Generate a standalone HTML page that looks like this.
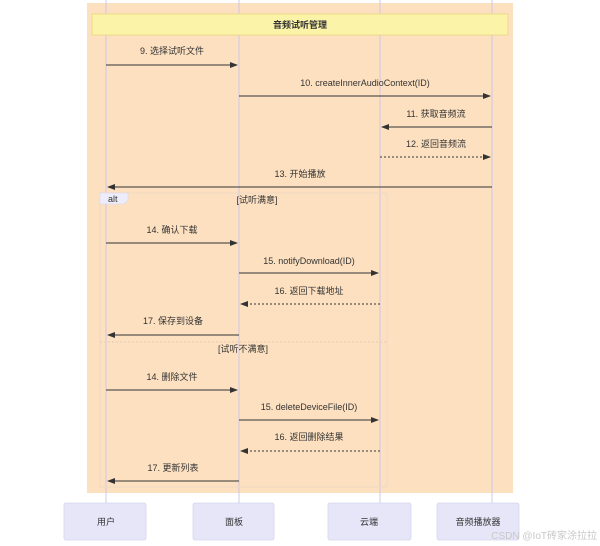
<!DOCTYPE html>
<html><head><meta charset="utf-8"><style>
html,body{margin:0;padding:0;background:#fff;width:600px;height:546px;overflow:hidden}
text{font-family:"Liberation Sans","Noto Sans CJK SC",sans-serif;font-size:9px;fill:#333}
</style></head><body>
<svg width="600" height="546" xmlns="http://www.w3.org/2000/svg">
<defs>
<marker id="a" markerWidth="8" markerHeight="6" refX="7" refY="3" orient="auto" markerUnits="userSpaceOnUse"><path d="M0,0L8,3L0,6z" fill="#333"/></marker>
</defs>
<rect x="87" y="3" width="426" height="490" fill="#fde0c0"/>
<g stroke="#cfc8ea" stroke-width="1">
<line x1="106" y1="0" x2="106" y2="503"/><line x1="239" y1="0" x2="239" y2="503"/>
<line x1="380" y1="0" x2="380" y2="503"/><line x1="492" y1="0" x2="492" y2="503"/>
</g>
<rect x="92" y="14" width="416" height="21" fill="#fbf3a8" stroke="#e6d87a" stroke-width="0.8"/>
<text x="300" y="28" text-anchor="middle" font-weight="bold">音频试听管理</text>
<rect x="100" y="193" width="287" height="294" fill="none" stroke="#f0d8c0" stroke-width="1"/>
<path d="M100,193H128V200L124,204H100z" fill="#ececfa" stroke="#d8d8ee" stroke-width="0.6"/>
<text x="108" y="202">alt</text>
<text x="257" y="203" text-anchor="middle">[试听满意]</text>
<line x1="100" y1="342" x2="387" y2="342" stroke="#e8cdb5" stroke-dasharray="2,2"/>
<text x="243" y="352" text-anchor="middle">[试听不满意]</text>
<g stroke="#333" stroke-width="1" fill="none">
<line x1="106" y1="65" x2="237" y2="65" marker-end="url(#a)"/>
<line x1="239" y1="96" x2="490" y2="96" marker-end="url(#a)"/>
<line x1="492" y1="127" x2="382" y2="127" marker-end="url(#a)"/>
<line x1="380" y1="157" x2="490" y2="157" marker-end="url(#a)" stroke-dasharray="2,2"/>
<line x1="492" y1="187" x2="108" y2="187" marker-end="url(#a)"/>
<line x1="106" y1="243" x2="237" y2="243" marker-end="url(#a)"/>
<line x1="239" y1="273" x2="378" y2="273" marker-end="url(#a)"/>
<line x1="380" y1="304" x2="241" y2="304" marker-end="url(#a)" stroke-dasharray="2,2"/>
<line x1="239" y1="335" x2="108" y2="335" marker-end="url(#a)"/>
<line x1="106" y1="390" x2="237" y2="390" marker-end="url(#a)"/>
<line x1="239" y1="420" x2="378" y2="420" marker-end="url(#a)"/>
<line x1="380" y1="451" x2="241" y2="451" marker-end="url(#a)" stroke-dasharray="2,2"/>
<line x1="239" y1="481" x2="108" y2="481" marker-end="url(#a)"/>
</g>
<g text-anchor="middle">
<text x="172" y="54">9. 选择试听文件</text>
<text x="365" y="86">10. createInnerAudioContext(ID)</text>
<text x="436" y="117">11. 获取音频流</text>
<text x="436" y="147">12. 返回音频流</text>
<text x="300" y="177">13. 开始播放</text>
<text x="172" y="233">14. 确认下载</text>
<text x="309" y="264">15. notifyDownload(ID)</text>
<text x="309" y="294">16. 返回下载地址</text>
<text x="173" y="324">17. 保存到设备</text>
<text x="172" y="380">14. 删除文件</text>
<text x="309" y="410">15. deleteDeviceFile(ID)</text>
<text x="309" y="440">16. 返回删除结果</text>
<text x="173" y="471">17. 更新列表</text>
</g>
<g fill="#e6e6f8" stroke="#d6d6ee" stroke-width="0.8">
<rect x="64" y="503" width="82" height="37" rx="2"/>
<rect x="193" y="503" width="81" height="37" rx="2"/>
<rect x="328" y="503" width="83" height="37" rx="2"/>
<rect x="437" y="503" width="82" height="37" rx="2"/>
</g>
<g text-anchor="middle">
<text x="106" y="525">用户</text>
<text x="234" y="525">面板</text>
<text x="369" y="525">云端</text>
<text x="478" y="525">音频播放器</text>
</g>
<text x="597" y="539" text-anchor="end" style="fill:#c8c8c8;font-size:10px">CSDN @IoT砖家涂拉拉</text>
</svg>
</body></html>
